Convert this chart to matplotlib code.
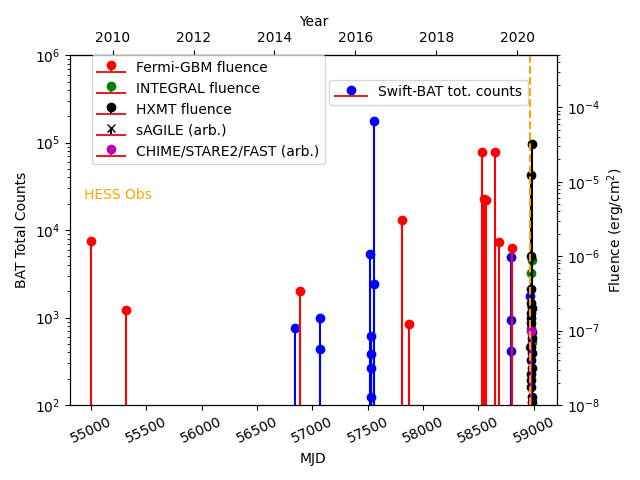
import matplotlib
matplotlib.use('Agg')
import matplotlib.pyplot as plt
import numpy as np

# Swift-BAT total counts (left axis)
bat_mjd = [56842, 57068, 57068, 57519, 57532, 57532, 57532, 57532, 57560, 57560, 58790, 58790, 58790, 58968]
bat_counts = [760, 985, 437, 5300, 615, 385, 265, 123, 178000, 2400, 4900, 935, 414, 1760]

# Fermi-GBM fluence (right axis)
gbm_mjd = [55006, 55322, 56887, 57811, 57871, 58533, 58548, 58573, 58654, 58684, 58801]
gbm_flu = [1.58e-6, 1.87e-7, 3.4e-7, 3.1e-6, 1.22e-7, 2.54e-5, 5.8e-6, 5.6e-6, 2.54e-5, 1.53e-6, 1.27e-6]

# INTEGRAL fluence
integral_mjd = [58982, 58972, 58972, 58980, 58970]
integral_flu = [8.8e-7, 5.9e-7, 1.08e-7, 7.0e-8, 6.0e-8]

# HXMT fluence
hxmt_mjd = [58982, 58978, 58972, 58975, 58982, 58977, 58974, 58982, 58972, 58980, 58975, 58982,
            58977, 58972, 58980, 58976, 58983, 58973, 58981, 58975]
hxmt_flu = [3.25e-5, 1.25e-5, 1.02e-6, 2.33e-7, 2.0e-7, 1.71e-7, 1.25e-7, 8.0e-8, 6.0e-8, 5.0e-8,
            4.0e-8, 3.2e-8, 2.6e-8, 1.75e-8, 1.28e-8, 1.5e-7, 9.5e-8, 2.2e-8, 1.1e-8, 3.6e-7]

# sAGILE (arb.)
agile_mjd = [58976]
agile_flu = [1.9e-7]

# CHIME/STARE2/FAST (arb.)
frb_mjd = [58976]
frb_flu = [1.0e-7]

hess_mjd = 58965


def mjd2year(m):
    return 2000 + (np.asarray(m) - 51544.5) / 365.25


def year2mjd(y):
    return (np.asarray(y) - 2000) * 365.25 + 51544.5


fig, ax = plt.subplots(figsize=(6.4, 4.8))
fig.subplots_adjust(left=0.109, right=0.870, bottom=0.156, top=0.885)

s_bat = ax.stem(bat_mjd, bat_counts, linefmt='b-', markerfmt='bo', bottom=1e-3,
                label='Swift-BAT tot. counts')
ax.set_yscale('log')
ax.set_ylim(1e2, 1e6)
ax.set_xlim(54810, 59208)
ax.set_xlabel('MJD')
ax.set_ylabel('BAT Total Counts')
ax.tick_params(axis='x', labelrotation=25)
ax.text(54937, 2.5e4, 'HESS Obs', color='orange', va='center')
ax.legend(handles=[s_bat], loc='upper right', bbox_to_anchor=(0.94, 0.93), borderaxespad=0,
          handlelength=2.3)

ax2 = ax.twinx()
s_gbm = ax2.stem(gbm_mjd, gbm_flu, linefmt='r-', markerfmt='ro', bottom=1e-12,
                 label='Fermi-GBM fluence')
s_int = ax2.stem(integral_mjd, integral_flu, linefmt='g-', markerfmt='go', bottom=1e-12,
                 label='INTEGRAL fluence')
s_hx = ax2.stem(hxmt_mjd, hxmt_flu, linefmt='k-', markerfmt='ko', bottom=1e-12,
                label='HXMT fluence')
s_ag = ax2.stem(agile_mjd, agile_flu, linefmt='k-', markerfmt='kx', bottom=1e-12,
                label='sAGILE (arb.)')
s_frb = ax2.stem(frb_mjd, frb_flu, linefmt='m-', markerfmt='mo', bottom=1e-12,
                 label='CHIME/STARE2/FAST (arb.)')
ax2.axvline(hess_mjd, color='orange', linestyle='--')
ax2.set_yscale('log')
ax2.set_ylim(1e-8, 5e-4)
ax2.set_ylabel('Fluence (erg/cm$^2$)')
ax2.legend(handles=[s_gbm, s_int, s_hx, s_ag, s_frb], loc='upper left',
           bbox_to_anchor=(0.045, 1.0), borderaxespad=0)

sec = ax.secondary_xaxis('top', functions=(mjd2year, year2mjd))
sec.set_xlabel('Year')

plt.savefig('out.png', dpi=100)
